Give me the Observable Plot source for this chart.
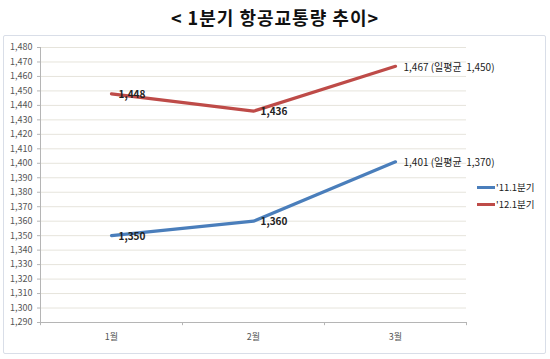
<!DOCTYPE html>
<html>
<head>
<meta charset="utf-8">
<script src="https://cdn.jsdelivr.net/npm/d3@7"></script>
<script src="https://cdn.jsdelivr.net/npm/@observablehq/plot@0.6"></script>
<style>
  html, body { margin: 0; padding: 0; background: #fff; }
  #wrap { position: relative; width: 550px; height: 359px; overflow: hidden; font-family: "Noto Sans CJK KR", "Noto Sans", sans-serif; }
  #title { position: absolute; left: 0; top: 4px; width: 550px; text-align: center; font-size: 18px; font-weight: bold; color: #111; letter-spacing: 1px; line-height: 26px; }
  #box { position: absolute; left: 3px; top: 35px; width: 541px; height: 317px; border: 1px solid #d9dee8; border-radius: 2px; }
  #chart { position: absolute; left: 0; top: 35px; }
  #legend { position: absolute; left: 477px; top: 179px; font-size: 9.5px; color: #222; line-height: 17px; }
  #legend .sw { display: inline-block; width: 18px; height: 3px; vertical-align: middle; margin-right: 1px; position: relative; top: -1px; }
</style>
</head>
<body>
<div id="wrap">
  <div id="title">&lt; 1분기 항공교통량 추이&gt;</div>
  <div id="box"></div>
  <div id="chart"></div>
  <div id="legend"></div>
</div>
<script>
const months = ["1월", "2월", "3월"];
const seriesNames = ["'11.1분기", "'12.1분기"];
const values2011 = [1350, 1360, 1401];
const values2012 = [1448, 1436, 1467];
const dailyAvg = [1370, 1450];
const colors = ["#4a7ebb", "#be4b48"];
const yTicks = d3.range(1290, 1481, 10);

const fmt = d3.format(",");
const seriesValues = [values2011, values2012];
const data = [];
seriesValues.forEach((vals, s) => {
  vals.forEach((v, i) => {
    const last = i === vals.length - 1;
    data.push({
      series: seriesNames[s],
      x: i + 1,
      value: v,
      label: last ? `${fmt(v)} (일평균  ${fmt(dailyAvg[s])})` : fmt(v),
      last
    });
  });
});
const boundaries = d3.range(months.length + 1).map(i => i + 0.5);
const yMin = yTicks[0], yMax = yTicks[yTicks.length - 1];

const chart = Plot.plot({
  width: 550,
  height: 320,
  marginTop: 12,
  marginBottom: 33,
  marginLeft: 40,
  marginRight: 84,
  style: { fontFamily: "'Noto Sans CJK KR', 'Noto Sans', sans-serif", background: "transparent", overflow: "visible" },
  x: { type: "linear", domain: [0.5, months.length + 0.5] },
  y: { domain: [yMin, yMax] },
  color: { domain: seriesNames, range: colors },
  marks: [
    Plot.ruleY(yTicks.slice(1), { stroke: "#e6e4dc", strokeWidth: 1 }),
    Plot.ruleX([0.5], { y1: yMin, y2: yMax, stroke: "#b5b5b5" }),
    Plot.ruleY([yMin], { stroke: "#b5b5b5" }),
    Plot.ruleX(boundaries, { y1: yMin, y2: yMin - 2.2, stroke: "#b5b5b5", clip: false }),
    Plot.axisY({ ticks: yTicks, tickFormat: d => fmt(d), tickSize: 3, tickPadding: 5, fontSize: 9, color: "#555", stroke: "#b5b5b5", label: null }),
    Plot.axisX({ ticks: d3.range(1, months.length + 1), tickFormat: d => months[d - 1], tickSize: 0, tickPadding: 11, fontSize: 9, color: "#555", label: null }),
    Plot.line(data, { x: "x", y: "value", z: "series", stroke: "series", strokeWidth: 3.2, strokeLinejoin: "round" }),
    Plot.text(data.filter(d => !d.last), { x: "x", y: "value", text: "label", textAnchor: "start", dx: 7, dy: 1, fontSize: 10, fontWeight: "bold", fill: "#222" }),
    Plot.text(data.filter(d => d.last), { x: "x", y: "value", text: "label", textAnchor: "start", dx: 8, dy: 1, fontSize: 10, fill: "#222" })
  ]
});
document.getElementById("chart").appendChild(chart);

const legend = document.getElementById("legend");
seriesNames.forEach((n, i) => {
  const row = document.createElement("div");
  row.innerHTML = `<span class="sw" style="background:${colors[i]}"></span>${n}`;
  legend.appendChild(row);
});
</script>
</body>
</html>
